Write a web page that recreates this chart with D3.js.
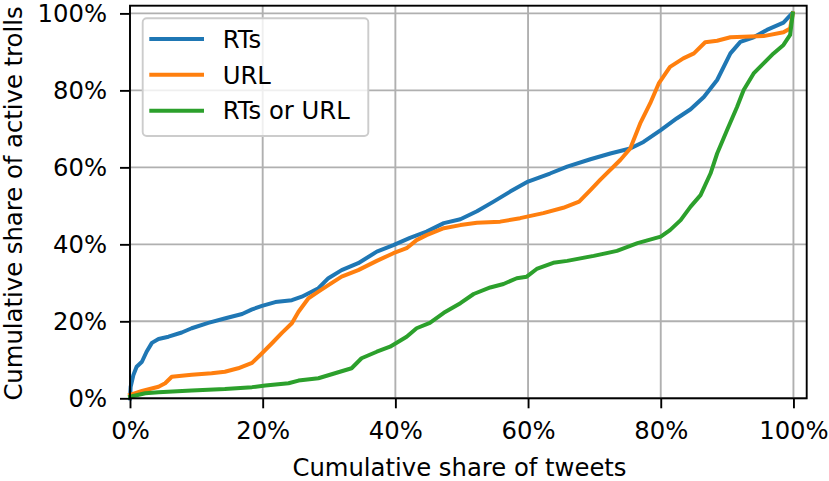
<!DOCTYPE html>
<html>
<head>
<meta charset="utf-8">
<script src="https://cdn.jsdelivr.net/npm/d3@7"></script>
<style>
  html, body { margin: 0; padding: 0; background: #fff; }
  svg { display: block; }
  text { font-family: "DejaVu Sans", sans-serif; fill: #000; }
</style>
</head>
<body>
<svg id="chart" width="829" height="481"></svg>
<script>
// ---- data (x = cumulative share of tweets %, y = cumulative share of active trolls %) ----
const seriesNames = ["RTs", "URL", "RTs or URL"];
const seriesColors = ["#1f77b4", "#ff7f0e", "#2ca02c"];

const rtsX = [0, 0.1, 0.5, 1.0, 1.8, 2.5, 3.3, 4.3, 5.8, 7.8, 9.3, 11.8, 14.4, 16.9, 18.4, 19.9, 21.9, 24.4, 25.9, 28.4, 29.9, 31.9, 34.4, 37.2, 39.7, 42.2, 44.7, 47.3, 49.8, 52.3, 54.8, 57.3, 60.0, 63.3, 65.9, 69.4, 72.4, 75.4, 77.4, 80.0, 82.4, 84.5, 86.5, 88.5, 90.5, 92.0, 94.0, 96.0, 98.5, 99.8];
const rtsY = [0, 3.0, 6.0, 8.2, 9.5, 12.1, 14.4, 15.4, 16.0, 17.1, 18.2, 19.6, 20.8, 21.9, 23.1, 24.0, 25.0, 25.5, 26.4, 28.6, 31.2, 33.3, 35.1, 38.1, 39.8, 41.7, 43.3, 45.5, 46.5, 48.6, 51.1, 53.7, 56.3, 58.4, 60.2, 62.1, 63.6, 64.9, 66.6, 69.7, 72.7, 75.1, 78.3, 82.7, 89.6, 92.6, 93.8, 95.7, 97.6, 100];

const urlX = [0, 1.8, 4.3, 5.3, 6.3, 9.3, 12.3, 14.3, 16.3, 18.4, 19.9, 21.4, 22.9, 24.4, 25.4, 26.9, 28.4, 29.9, 31.9, 34.4, 37.2, 39.7, 41.7, 43.2, 44.7, 47.3, 49.8, 52.3, 55.8, 58.8, 62.3, 65.3, 67.7, 69.4, 70.9, 73.9, 75.4, 76.9, 78.4, 79.7, 81.4, 83.4, 85.0, 86.7, 88.5, 90.5, 95.5, 98.5, 99.5, 99.9];
const urlY = [0.9, 1.9, 3.0, 3.9, 5.6, 6.1, 6.5, 6.9, 7.8, 9.2, 11.7, 14.3, 17.0, 19.5, 22.5, 26.0, 27.7, 29.4, 31.6, 33.3, 35.7, 37.7, 39.0, 41.1, 42.4, 44.2, 45.0, 45.6, 45.9, 46.8, 48.1, 49.5, 51.1, 54.1, 56.8, 61.9, 64.9, 71.4, 76.6, 81.8, 86.1, 88.3, 89.6, 92.5, 92.9, 93.8, 94.1, 95.1, 96.1, 100];

const bothX = [0, 2.3, 4.3, 9.3, 14.3, 18.4, 20.4, 23.9, 25.4, 28.4, 30.9, 33.4, 34.9, 37.2, 39.2, 41.7, 43.2, 45.2, 47.3, 49.8, 51.8, 54.3, 56.3, 58.3, 59.8, 61.3, 63.8, 65.9, 69.9, 73.4, 76.5, 80.0, 81.4, 83.0, 84.5, 86.0, 87.5, 88.5, 90.0, 91.5, 92.5, 94.0, 95.5, 97.0, 98.5, 99.5, 99.9];
const bothY = [0.4, 1.3, 1.6, 2.0, 2.4, 2.9, 3.3, 3.9, 4.6, 5.2, 6.5, 7.8, 10.4, 12.1, 13.4, 16.0, 18.2, 19.6, 22.2, 24.7, 27.1, 28.8, 29.7, 31.2, 31.6, 33.6, 35.2, 35.7, 37.0, 38.3, 40.3, 42.0, 43.7, 46.3, 49.8, 52.8, 58.4, 63.6, 69.7, 75.7, 80.1, 84.4, 87.0, 89.6, 91.8, 94.4, 100];

const xTicks = [0, 20, 40, 60, 80, 100];
const yTicks = [0, 20, 40, 60, 80, 100];
const xTitle = "Cumulative share of tweets";
const yTitle = "Cumulative share of active trolls";

// ---- layout ----
const svg = d3.select("#chart");
const L = 130, R = 806.7, T = 5.7, B = 398.3;
const x = d3.scaleLinear().domain([0, 102]).range([L, R]);
const y = d3.scaleLinear().domain([0, 102]).range([B, T]);
const FS = 24.3;

// grid
const grid = svg.append("g");
grid.selectAll("line.gx").data(xTicks).enter().append("line")
  .attr("x1", d => x(d)).attr("x2", d => x(d)).attr("y1", T).attr("y2", B)
  .attr("stroke", "#b0b0b0").attr("stroke-width", 1.9);
grid.selectAll("line.gy").data(yTicks).enter().append("line")
  .attr("x1", L).attr("x2", R).attr("y1", d => y(d)).attr("y2", d => y(d))
  .attr("stroke", "#b0b0b0").attr("stroke-width", 1.9);

// lines
const series = [
  { name: seriesNames[0], xs: rtsX, ys: rtsY, color: seriesColors[0] },
  { name: seriesNames[1], xs: urlX, ys: urlY, color: seriesColors[1] },
  { name: seriesNames[2], xs: bothX, ys: bothY, color: seriesColors[2] }
];
const line = d3.line().x(d => x(d[0])).y(d => y(d[1]));
series.forEach(s => {
  const pts = s.xs.map((v, i) => [v, s.ys[i]]);
  svg.append("path").datum(pts)
    .attr("d", line)
    .attr("fill", "none")
    .attr("stroke", s.color)
    .attr("stroke-width", 4)
    .attr("stroke-linejoin", "round")
    .attr("stroke-linecap", "square");
});

// axes
const xAxis = d3.axisBottom(x).tickValues(xTicks).tickFormat(d => d + "%").tickSize(10).tickPadding(13.4);
const yAxis = d3.axisLeft(y).tickValues(yTicks).tickFormat(d => d + "%").tickSize(10).tickPadding(13);
const gx = svg.append("g").attr("transform", `translate(0,${B})`).call(xAxis);
const gy = svg.append("g").attr("transform", `translate(${L},0)`).call(yAxis);
[gx, gy].forEach(g => {
  g.select(".domain").remove();
  g.selectAll(".tick line").attr("stroke", "#000").attr("stroke-width", 1.9);
  g.selectAll(".tick text").attr("font-size", FS).attr("font-family", "DejaVu Sans").attr("fill", "#000");
});

// spines
svg.append("rect").attr("x", L).attr("y", T).attr("width", R - L).attr("height", B - T)
  .attr("fill", "none").attr("stroke", "#000").attr("stroke-width", 1.9);

// axis titles
svg.append("text").attr("x", 459.5).attr("y", 475.7)
  .attr("text-anchor", "middle").attr("font-size", FS).text(xTitle);
svg.append("text").attr("transform", `translate(22,203.5) rotate(-90)`)
  .attr("text-anchor", "middle").attr("font-size", FS).text(yTitle);

// legend
const lg = svg.append("g");
lg.append("rect").attr("x", 142.7).attr("y", 18.3).attr("width", 225.6).attr("height", 117.7)
  .attr("rx", 4).attr("fill", "#fff").attr("fill-opacity", 0.8)
  .attr("stroke", "#cccccc").attr("stroke-width", 1.9);
series.forEach((s, i) => {
  const cy = 39 + i * 35.85;
  lg.append("line").attr("x1", 149.3).attr("x2", 204).attr("y1", cy).attr("y2", cy)
    .attr("stroke", s.color).attr("stroke-width", 4);
  lg.append("text").attr("x", 222.7).attr("y", cy).attr("dy", "0.36em")
    .attr("font-size", FS).text(s.name);
});
</script>
</body>
</html>
